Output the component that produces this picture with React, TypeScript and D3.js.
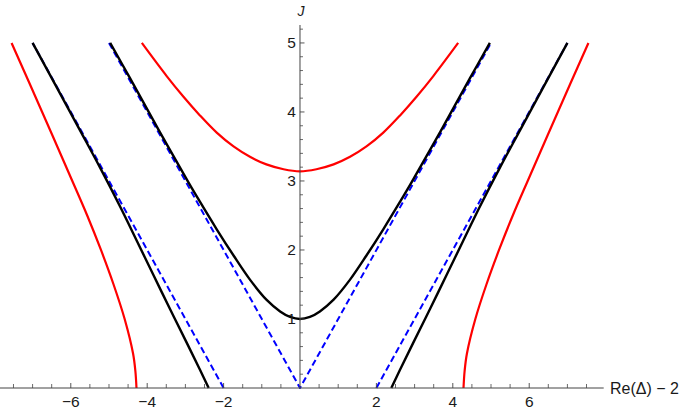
import React from "react";
import * as d3 from "d3";

// ---- data ----
const xTickValues = [-6, -4, -2, 2, 4, 6];
const xTickLabels = ["−6", "−4", "−2", "2", "4", "6"];
const yTickValues = [1, 2, 3, 4, 5];
const yTickLabels = ["1", "2", "3", "4", "5"];

// red inner (U-shaped) branch
const redInnerX = [-4.14, -3.49, -3.05, -2.62, -2.18, -1.74, -1.31, -0.88, -0.43, 0, 0.43, 0.88, 1.31, 1.74, 2.18, 2.62, 3.05, 3.49, 4.14];
const redInnerJ = [5.0, 4.52, 4.22, 3.95, 3.7, 3.5, 3.35, 3.24, 3.17, 3.14, 3.17, 3.24, 3.35, 3.5, 3.7, 3.95, 4.22, 4.52, 5.0];

// red outer branches
const redOuterRightX = [4.28, 4.31, 4.37, 4.59, 4.88, 5.21, 5.57, 5.96, 6.75, 7.55];
const redOuterLeftX = [-4.28, -4.31, -4.37, -4.59, -4.88, -5.21, -5.57, -5.96, -6.75, -7.55];
const redOuterJ = [0, 0.25, 0.5, 1.0, 1.5, 2.0, 2.5, 3.0, 4.0, 5.0];

// black inner (hyperbola-like) branch
const blackInnerX = [-4.97, -4.45, -3.69, -2.92, -2.62, -2.18, -1.74, -1.31, -0.88, -0.52, -0.26, 0, 0.26, 0.52, 0.88, 1.31, 1.74, 2.18, 2.62, 2.92, 3.69, 4.45, 4.97];
const blackInnerJ = [5.0, 4.49, 3.73, 2.98, 2.7, 2.3, 1.92, 1.57, 1.28, 1.11, 1.03, 1.0, 1.03, 1.11, 1.28, 1.57, 1.92, 2.3, 2.7, 2.98, 3.73, 4.49, 5.0];

// black outer branches
const blackOuterRightX = [2.39, 2.615, 2.96, 3.39, 3.84, 4.26, 4.71, 5.24, 5.765, 7.0];
const blackOuterLeftX = [-2.39, -2.615, -2.96, -3.39, -3.84, -4.26, -4.71, -5.24, -5.765, -7.0];
const blackOuterJ = [0, 0.26, 0.65, 1.13, 1.64, 2.12, 2.63, 3.2, 3.74, 5.0];

// blue dashed straight lines
const blueVX = [-5, 0, 5];
const blueVJ = [5, 0, 5];
const blueRightX = [2, 7];
const blueLeftX = [-2, -7];
const blueSideJ = [0, 5];

type Series = { xs: number[]; js: number[]; color: string; width: number; dash?: string; curve: boolean };

const series: Series[] = [
  { xs: blueVX, js: blueVJ, color: "#0000ff", width: 2, dash: "6.5,3.5", curve: false },
  { xs: blueRightX, js: blueSideJ, color: "#0000ff", width: 2, dash: "6.5,3.5", curve: false },
  { xs: blueLeftX, js: blueSideJ, color: "#0000ff", width: 2, dash: "6.5,3.5", curve: false },
  { xs: blackInnerX, js: blackInnerJ, color: "#000000", width: 2.4, curve: true },
  { xs: blackOuterRightX, js: blackOuterJ, color: "#000000", width: 2.4, curve: true },
  { xs: blackOuterLeftX, js: blackOuterJ, color: "#000000", width: 2.4, curve: true },
  { xs: redInnerX, js: redInnerJ, color: "#ff0000", width: 2.2, curve: true },
  { xs: redOuterRightX, js: redOuterJ, color: "#ff0000", width: 2.2, curve: true },
  { xs: redOuterLeftX, js: redOuterJ, color: "#ff0000", width: 2.2, curve: true },
];

export default function App() {
  const W = 681;
  const H = 408;
  const x = d3.scaleLinear().domain([-7.853, 7.95]).range([0, 603.7]);
  const y = d3.scaleLinear().domain([0, 5.26]).range([388, 25]);

  const lineCurve = d3
    .line<[number, number]>()
    .x((d) => x(d[0]))
    .y((d) => y(d[1]))
    .curve(d3.curveCatmullRom.alpha(0.5));
  const lineStraight = d3
    .line<[number, number]>()
    .x((d) => x(d[0]))
    .y((d) => y(d[1]));

  const xMinor = d3.range(-7.5, 7.51, 0.5).filter((v) => Math.abs(v % 2) > 1e-6 && Math.abs(v) > 1e-6);
  const yMinor = d3.range(0.2, 5.25, 0.2).filter((v) => Math.abs(v - Math.round(v)) > 1e-6);

  const axisColor = "#444444";
  const textColor = "#1a1a1a";
  const font = "'Liberation Sans', Arial, sans-serif";

  return (
    <svg width={W} height={H} style={{ position: "absolute", left: 0, top: 0 }} fontFamily={font}>
      <rect width={W} height={H} fill="#ffffff" />
      <g>
        {series.map((s, i) => {
          const pts: [number, number][] = s.xs.map((v, k) => [v, s.js[k]]);
          const d = (s.curve ? lineCurve : lineStraight)(pts) || "";
          return (
            <path
              key={i}
              d={d}
              fill="none"
              stroke={s.color}
              strokeWidth={s.width}
              strokeDasharray={s.dash}
              strokeLinejoin="round"
            />
          );
        })}
      </g>
      {/* x axis */}
      <line x1={x.range()[0]} x2={x.range()[1]} y1={y(0)} y2={y(0)} stroke={axisColor} strokeWidth={1} />
      {xMinor.map((v) => (
        <line key={"xm" + v} x1={x(v)} x2={x(v)} y1={y(0)} y2={y(0) - 4} stroke={axisColor} strokeWidth={0.8} />
      ))}
      {xTickValues.map((v, i) => (
        <g key={"xt" + v}>
          <line x1={x(v)} x2={x(v)} y1={y(0)} y2={y(0) - 5} stroke={axisColor} strokeWidth={0.9} />
          <text x={x(v)} y={406.5} textAnchor="middle" fontSize={15.5} fill={textColor}>
            {xTickLabels[i]}
          </text>
        </g>
      ))}
      {/* y axis */}
      <line x1={x(0)} x2={x(0)} y1={y(0)} y2={y(5.26)} stroke={axisColor} strokeWidth={1} />
      {yMinor.map((v) => (
        <line key={"ym" + v} x1={x(0)} x2={x(0) + 3} y1={y(v)} y2={y(v)} stroke={axisColor} strokeWidth={0.8} />
      ))}
      {yTickValues.map((v, i) => (
        <g key={"yt" + v}>
          <line x1={x(0)} x2={x(0) + 4.5} y1={y(v)} y2={y(v)} stroke={axisColor} strokeWidth={0.9} />
          <text x={x(0) - 4} y={y(v) + 5.5} textAnchor="end" fontSize={15.5} fill={textColor}>
            {yTickLabels[i]}
          </text>
        </g>
      ))}
      <text x={x(0) + 1} y={15.5} textAnchor="middle" fontSize={14} fontStyle="italic" fill={textColor}>
        J
      </text>
      <text x={610} y={y(0) + 5.5} fontSize={16} fill={textColor}>
        Re(Δ) − 2
      </text>
    </svg>
  );
}
